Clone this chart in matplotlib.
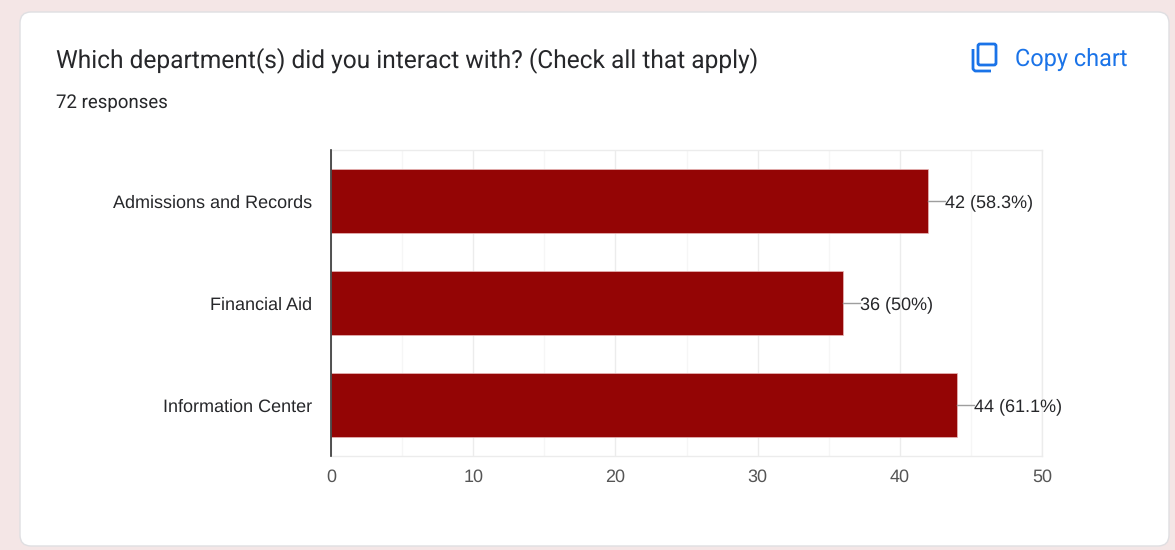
import matplotlib
matplotlib.use("Agg")
import matplotlib.pyplot as plt
from matplotlib.patches import FancyBboxPatch

plt.rcParams["text.hinting"] = "no_hinting"
plt.rcParams["text.hinting_factor"] = 8

W, H = 1175, 550
departments = ["Admissions and Records", "Financial Aid", "Information Center"]
counts = [42, 36, 44]
value_labels = ["42 (58.3%)", "36 (50%)", "44 (61.1%)"]
major_ticks = [0, 10, 20, 30, 40, 50]
minor_ticks = [5, 15, 25, 35, 45]

TEXT = "#26272a"
SANS = "Liberation Sans"

fig = plt.figure(figsize=(W / 100, H / 100), dpi=100, facecolor="#f4e6e6")

# Pixel-space layer holding the card, the headings and the copy button
bg = fig.add_axes([0, 0, 1, 1], zorder=0)
bg.set_xlim(0, W)
bg.set_ylim(H, 0)
bg.axis("off")
bg.add_patch(FancyBboxPatch((20, 12), 1149, 534, boxstyle="round,pad=0,rounding_size=11",
                            fc="white", ec="#dfdfe2", lw=1.0))
bg.text(56, 60, "Which department(s) did you interact with? (Check all that apply)",
        family="Roboto", fontsize=17.68, color=TEXT, va="center", ha="left")
bg.text(56, 103.2, "72 responses", family="Roboto", fontsize=13.4, color=TEXT, va="center", ha="left")
bg.text(1015, 59.2, "Copy chart", family="Roboto", fontsize=16.95, color="#1a73e8", va="center", ha="left")

# Copy icon: rounded front sheet plus the L-shaped edge of the sheet behind it
bg.add_patch(FancyBboxPatch((978, 44), 18, 21, boxstyle="round,pad=0,rounding_size=2",
                            fc="none", ec="#1a73e8", lw=2.0))
bg.plot([973, 973, 975, 991], [49, 69, 71, 71], color="#1a73e8", lw=2.0,
        solid_capstyle="butt", solid_joinstyle="round")

# Bar chart
ax = fig.add_axes([331 / W, 1 - 456 / H, (1042 - 331) / W, (456 - 150) / H], zorder=1)
ax.patch.set_alpha(0)
positions = list(range(len(departments)))
ax.barh(positions, counts, height=0.62, color="#940505", edgecolor="#e9b9b9", linewidth=0.5, zorder=3)
ax.set_xlim(0, 50)
ax.set_ylim(len(departments) - 0.5, -0.5)
ax.set_xticks(major_ticks)
ax.set_xticks(minor_ticks, minor=True)
ax.set_yticks(positions, departments)
ax.grid(True, axis="x", which="major", color="#ececec", lw=1.0, zorder=0)
ax.grid(True, axis="x", which="minor", color="#f6f6f6", lw=1.0, zorder=0)
ax.tick_params(axis="both", which="both", length=0)
ax.tick_params(axis="x", pad=9.5, labelsize=13, labelcolor="#555555")
ax.tick_params(axis="y", pad=13.5, labelsize=12.93, labelcolor=TEXT)
for lab in ax.get_xticklabels() + ax.get_yticklabels():
    lab.set_family(SANS)

for side in ("top", "right", "bottom"):
    ax.spines[side].set_color("#ececec")
    ax.spines[side].set_linewidth(1.0)
ax.spines["left"].set_color("#333333")
ax.spines["left"].set_linewidth(1.2)
ax.spines["left"].set_zorder(5)

# Leader line and value text beside each bar
for y, value, label in zip(positions, counts, value_labels):
    ax.plot([value, value + 1.2], [y, y], color="#9e9e9e", lw=1.0, zorder=4, clip_on=False)
    ax.annotate(label, (value + 1.2, y), xytext=(0, -1.2), textcoords="offset points",
                family=SANS, fontsize=13.0, color=TEXT,
                va="center", ha="left", zorder=6, annotation_clip=False)

fig.savefig("out.png", dpi=100, facecolor=fig.get_facecolor())
